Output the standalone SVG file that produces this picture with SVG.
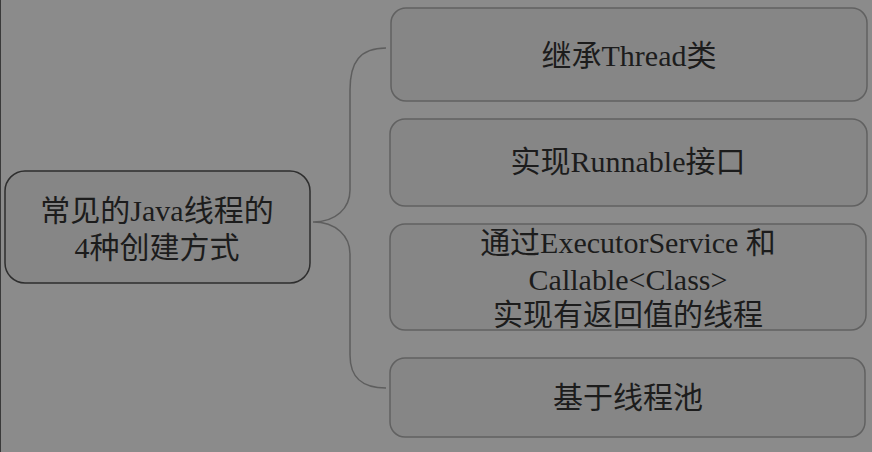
<svg xmlns="http://www.w3.org/2000/svg" width="872" height="452" viewBox="0 0 872 452">
<style>
.bg{fill:#8b8b8b}
.box{fill:#868686;stroke:#616161;stroke-width:1.5}
.root{fill:#868686;stroke:#2e2e2e;stroke-width:1.5}
.t{font-family:"Liberation Serif","Noto Sans CJK SC",serif;font-size:30px;fill:#1c1c1c;text-anchor:middle}
.c{fill:none;stroke:#5e5e5e;stroke-width:1.5}
</style>
<rect class="bg" x="0" y="0" width="872" height="452"/>
<line x1="0.5" y1="0" x2="0.5" y2="452" stroke="#3a3a3a" stroke-width="1"/>
<g id="connectors">
<path class="c" d="M386 48 C360 48 350 62 350 90 L350 190 C350 208 336 222 313 222 C336 222 350 236 350 254 L350 355 C350 378 362 388 386 388"/>
</g>
<g id="root">
<rect class="root" x="5" y="171" width="305" height="112" rx="20"/>
<text class="t" x="157" y="221">常见的Java线程的</text>
<text class="t" x="157" y="258">4种创建方式</text>
</g>
<g id="n1">
<rect class="box" x="391" y="8" width="476" height="93" rx="15"/>
<text class="t" x="629" y="66">继承Thread类</text>
</g>
<g id="n2">
<rect class="box" x="390" y="119" width="477" height="87" rx="15"/>
<text class="t" x="628" y="172">实现Runnable接口</text>
</g>
<g id="n3">
<rect class="box" x="390" y="224" width="476" height="106" rx="15"/>
<text class="t" x="628" y="253">通过ExecutorService 和</text>
<text class="t" x="628" y="290">Callable&lt;Class&gt;</text>
<text class="t" x="628" y="325">实现有返回值的线程</text>
</g>
<g id="n4">
<rect class="box" x="390" y="358" width="475" height="79" rx="15"/>
<text class="t" x="628" y="408">基于线程池</text>
</g>
</svg>
